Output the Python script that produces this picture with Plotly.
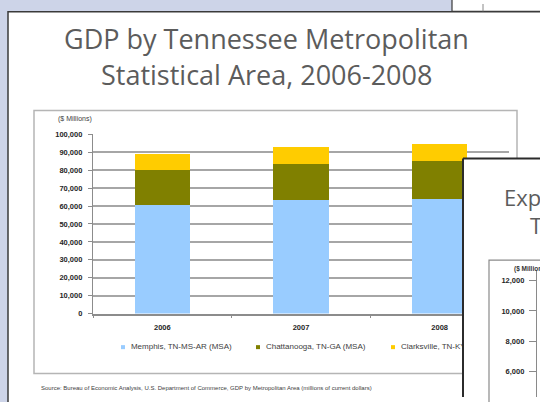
import plotly.graph_objects as go

# GDP by metropolitan statistical area ($ millions)
years = ["2006", "2007", "2008"]
memphis = [60300, 63100, 64000]
chattanooga = [19700, 20200, 20900]
clarksville = [9100, 9400, 9600]

series_names = ["Memphis, TN-MS-AR (MSA)", "Chattanooga, TN-GA (MSA)", "Clarksville, TN-KY (MSA)"]
series_colors = ["#99ccff", "#808000", "#ffcc00"]

y_ticks = list(range(0, 100001, 10000))
export_ticks = [6000, 8000, 10000, 12000]

W, H = 540, 402


def fx(x):
    return x / W


def fy(y):
    return 1 - y / H


SMALL = "Liberation Sans, Arial, sans-serif"
TITLE = "Open Sans, sans-serif"

fig = go.Figure()

# stacked bars
for name, vals, col in zip(series_names, [memphis, chattanooga, clarksville], series_colors):
    fig.add_trace(go.Bar(x=years, y=vals, name=name, marker=dict(color=col, line=dict(width=0)),
                         xaxis="x", yaxis="y", showlegend=False))

# legend row (drawn as a trace so the front slide can cover it)
leg_x = [123, 258, 393]
fig.add_trace(go.Scatter(
    x=leg_x, y=[351] * 3, xaxis="x2", yaxis="y2", mode="markers+text",
    marker=dict(symbol="square", size=4, color=series_colors),
    text=["  " + n for n in series_names], textposition="middle right",
    textfont=dict(family=SMALL, size=8, color="#404040"),
    showlegend=False, hoverinfo="skip", cliponaxis=False))

# front slide sheet
fig.add_trace(go.Scatter(
    x=[463, 560, 560, 463, 463], y=[158, 158, 420, 420, 158], xaxis="x3", yaxis="y3",
    mode="lines", fill="toself", fillcolor="white",
    line=dict(color="#2b2b2b", width=2), showlegend=False, hoverinfo="skip"))

# axis holder for the front slide's chart
fig.add_trace(go.Scatter(x=[0], y=[None], xaxis="x4", yaxis="y4", mode="markers",
                         showlegend=False, hoverinfo="skip"))

shapes = [
    # back slide
    dict(type="rect", xref="paper", yref="paper", x0=fx(8), x1=fx(560), y0=fy(8), y1=fy(420),
         fillcolor="white", line=dict(color="#3a3a3a", width=1.5), layer="below"),
    # window strip at top right
    dict(type="rect", xref="paper", yref="paper", x0=fx(452), x1=fx(560), y0=fy(-5), y1=fy(7.5),
         fillcolor="white", line=dict(color="#3a3a3a", width=1.2), layer="below"),
    dict(type="line", xref="paper", yref="paper", x0=fx(483), x1=fx(483), y0=fy(0), y1=fy(7.5),
         line=dict(color="#888888", width=1), layer="below"),
    # chart frame
    dict(type="rect", xref="paper", yref="paper", x0=fx(34), x1=fx(517), y0=fy(109), y1=fy(378),
         fillcolor="rgba(0,0,0,0)", line=dict(color="#b5b5b5", width=1.5), layer="below"),
    # front slide chart frame
    dict(type="path", xref="paper", yref="paper",
         path=f"M {fx(489)} {fy(420)} L {fx(489)} {fy(262)} L {fx(560)} {fy(262)}",
         line=dict(color="#8a8a8a", width=1.2), layer="above"),
]

annotations = [
    dict(text="GDP by Tennessee Metropolitan", x=fx(266), y=fy(35), xref="paper", yref="paper",
         showarrow=False, xanchor="center", yanchor="middle",
         font=dict(family=TITLE, size=27, color="#5c5c5c")),
    dict(text="Statistical Area, 2006-2008", x=fx(266), y=fy(72), xref="paper", yref="paper",
         showarrow=False, xanchor="center", yanchor="middle",
         font=dict(family=TITLE, size=27, color="#5c5c5c")),
    dict(text="($ Millions)", x=fx(56), y=fy(118), xref="paper", yref="paper",
         showarrow=False, xanchor="left", yanchor="middle",
         font=dict(family=SMALL, size=7, color="#404040")),
    dict(text="Source: Bureau of Economic Analysis, U.S. Department of Commerce, GDP by Metropolitan Area (millions of current dollars)",
         x=fx(39), y=fy(393), xref="paper", yref="paper", showarrow=False, xanchor="left", yanchor="middle",
         font=dict(family=SMALL, size=6, color="#404040")),
    # front slide texts
    dict(text="Exports by Tennessee", x=fx(502), y=fy(197), xref="paper", yref="paper",
         showarrow=False, xanchor="left", yanchor="middle",
         font=dict(family=TITLE, size=22, color="#5c5c5c")),
    dict(text="Tennessee", x=fx(528), y=fy(226), xref="paper", yref="paper",
         showarrow=False, xanchor="left", yanchor="middle",
         font=dict(family=TITLE, size=22, color="#5c5c5c")),
    dict(text="<b>($ Millions)</b>", x=fx(512), y=fy(271), xref="paper", yref="paper",
         showarrow=False, xanchor="left", yanchor="middle",
         font=dict(family=SMALL, size=6.5, color="#333333")),
]

tick_font = dict(family=SMALL, size=7.5, color="#262626", weight="bold")

fig.update_layout(
    width=W, height=H, margin=dict(l=0, r=0, t=0, b=0),
    paper_bgcolor="#cdd4e8", plot_bgcolor="rgba(0,0,0,0)",
    barmode="stack", bargap=0.6, showlegend=False,
    shapes=shapes, annotations=annotations,
    xaxis=dict(domain=[fx(93), fx(509)], anchor="y", type="category",
               showline=True, linecolor="#8c8c8c", linewidth=1.5,
               ticks="outside", tickson="boundaries", ticklen=3, tickcolor="#8c8c8c",
               tickfont=tick_font, showgrid=False, ticklabelstandoff=6),
    yaxis=dict(domain=[fy(316.7), fy(133.3)], anchor="x", range=[0, 100000],
               tickvals=y_ticks, tickformat=",d", tickfont=tick_font,
               showgrid=True, gridcolor="#a6a6a6", gridwidth=1.6,
               showline=True, linecolor="#8c8c8c", linewidth=1.2,
               ticks="outside", ticklen=4, tickcolor="#8c8c8c", ticklabelstandoff=4,
               zeroline=False),
    xaxis2=dict(domain=[0, 1], anchor="y2", range=[0, W], visible=False),
    yaxis2=dict(domain=[0, 1], anchor="x2", range=[H, 0], visible=False),
    xaxis3=dict(domain=[0, 1], anchor="y3", range=[0, W], visible=False),
    yaxis3=dict(domain=[0, 1], anchor="x3", range=[H, 0], visible=False),
    xaxis4=dict(domain=[fx(537), 1], anchor="y4", range=[0, 1], visible=False),
    yaxis4=dict(domain=[0, fy(273)], anchor="x4", range=[4323, 12645],
                tickvals=export_ticks, tickformat=",d", tickfont=tick_font,
                showgrid=False, zeroline=False, showline=True, linecolor="#8a8a8a", linewidth=1.2,
                ticks="outside", ticklen=7, tickcolor="#8a8a8a", ticklabelstandoff=3),
)

fig.write_html("out.html")
